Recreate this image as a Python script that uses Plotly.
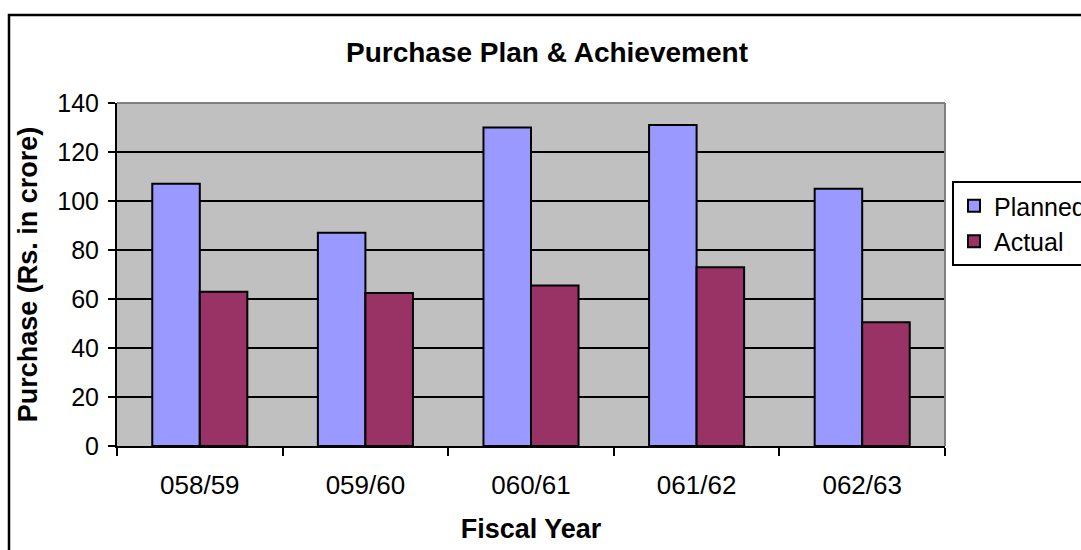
import plotly.graph_objects as go

# Purchase plan vs. actual purchase by fiscal year (Rs. in crore)
fiscal_years = ["058/59", "059/60", "060/61", "061/62", "062/63"]
planned = [107, 87, 130, 131, 105]
actual = [63, 62.5, 65.5, 73, 50.5]

FONT = "Liberation Sans, Arial, sans-serif"

W, H = 1081, 550
ML, MR, MT, MB = 117, 136, 103, 104
plot_w = W - ML - MR
plot_h = H - MT - MB


def px_to_paper_x(px):
    return (px - ML) / plot_w


def px_to_paper_y(py):
    return (H - MB - py) / plot_h


fig = go.Figure()
fig.add_trace(go.Bar(
    name="Planned", x=fiscal_years, y=planned,
    marker=dict(color="#9999FF", line=dict(color="black", width=2)),
    legendgroup="p",
))
fig.add_trace(go.Bar(
    name="Actual", x=fiscal_years, y=actual,
    marker=dict(color="#993366", line=dict(color="black", width=2)),
    legendgroup="a",
))

shapes = [
    # outer chart frame
    dict(type="rect", xref="paper", yref="paper",
         x0=px_to_paper_x(9), x1=px_to_paper_x(1100),
         y0=px_to_paper_y(600), y1=px_to_paper_y(15),
         line=dict(color="black", width=2.5), layer="below"),
    # plot area border (top and right, grey)
    dict(type="line", xref="paper", yref="paper", x0=0, x1=1, y0=1, y1=1,
         line=dict(color="#808080", width=2), layer="above"),
    dict(type="line", xref="paper", yref="paper", x0=1, x1=1, y0=0, y1=1,
         line=dict(color="#808080", width=2), layer="above"),
]

fig.update_layout(
    width=W, height=H,
    margin=dict(l=ML, r=MR, t=MT, b=MB, pad=0, autoexpand=False),
    paper_bgcolor="white",
    plot_bgcolor="#C0C0C0",
    font=dict(family=FONT, color="black", size=25),
    barmode="group",
    bargap=0.426,
    bargroupgap=0,
    title=dict(
        text="<b>Purchase Plan & Achievement</b>",
        font=dict(family=FONT, size=28, color="black"),
        x=0.506, xref="container", xanchor="center",
        y=1 - 52.5 / H, yref="container", yanchor="middle",
    ),
    xaxis=dict(
        type="category",
        range=[-0.5, 4.5],
        showgrid=False,
        showline=True, linecolor="black", linewidth=2,
        ticks="outside", tickson="boundaries", ticklen=8,
        tickcolor="black", tickwidth=2,
        tickfont=dict(size=26),
        ticklabelstandoff=15,
        title=dict(text="<b>Fiscal Year</b>", font=dict(size=27), standoff=20),
    ),
    yaxis=dict(
        range=[0, 140],
        tickvals=[0, 20, 40, 60, 80, 100, 120, 140],
        showgrid=True, gridcolor="black", gridwidth=2,
        zeroline=False,
        showline=True, linecolor="black", linewidth=2,
        ticks="outside", ticklen=7, tickcolor="black", tickwidth=2,
        tickfont=dict(size=25),
        ticklabelstandoff=4,
        title=dict(text="<b>Purchase (Rs. in crore)</b>", font=dict(size=27), standoff=12),
    ),
    legend=dict(
        x=px_to_paper_x(952), xanchor="left",
        y=px_to_paper_y(181), yanchor="top",
        bgcolor="white", bordercolor="black", borderwidth=2,
        font=dict(size=25),
        tracegroupgap=0,
        itemwidth=30,
    ),
    shapes=shapes,
)

fig.write_html("out.html")
